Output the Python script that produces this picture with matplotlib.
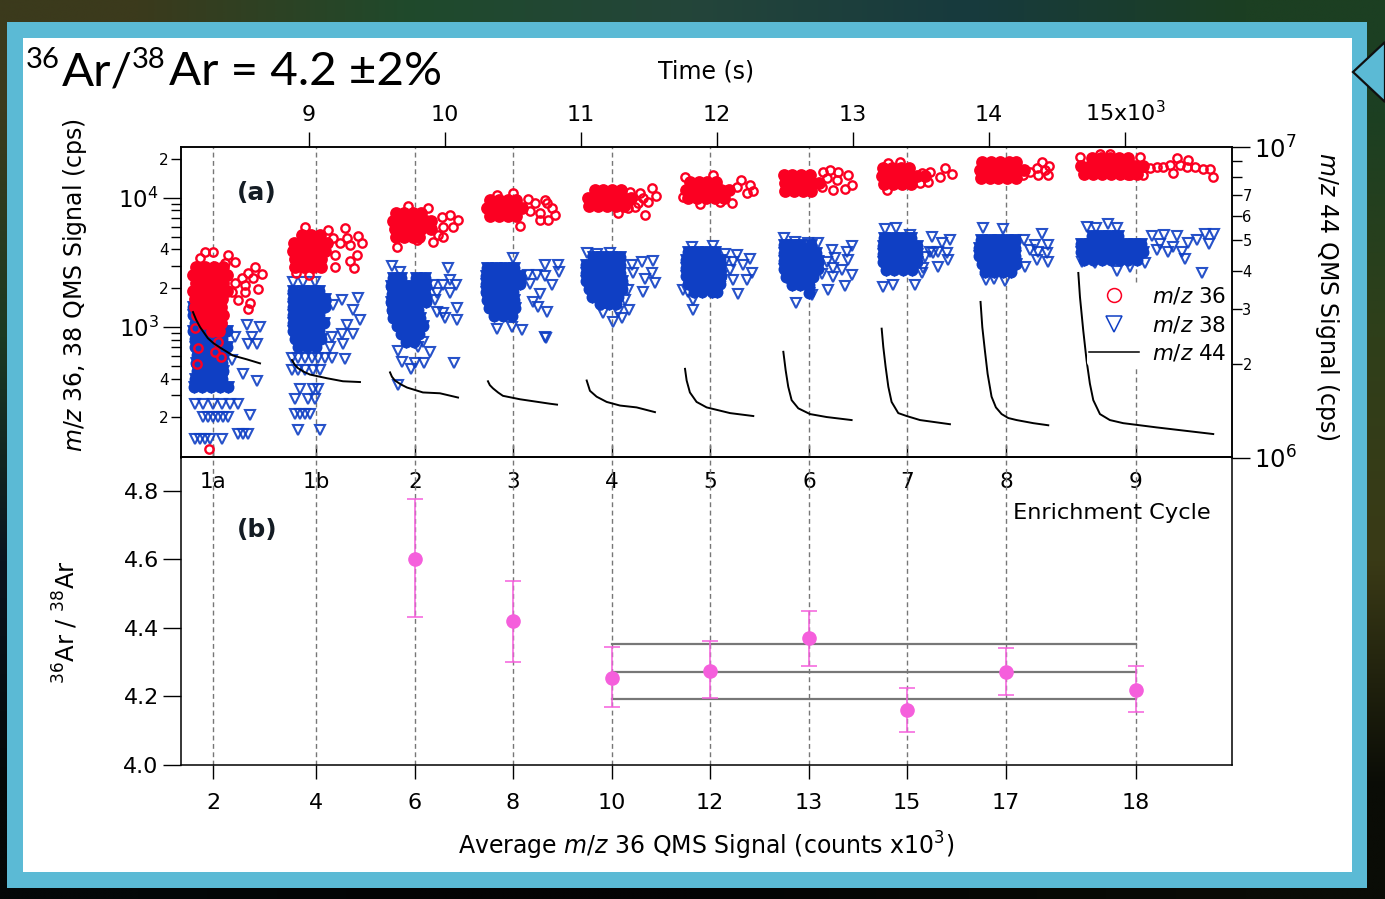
import numpy
import matplotlib
matplotlib.use('Agg')
import matplotlib.pyplot as plt
from matplotlib.lines import Line2D
from matplotlib.patches import Rectangle, Polygon

plt.rcParams['font.family'] = 'DejaVu Sans'
plt.rcParams['mathtext.fontset'] = 'dejavusans'
plt.rcParams['axes.linewidth'] = 1.1

W, H = 1385, 899

#Time axis and cycle positions
time_ticks = [9000, 10000, 11000, 12000, 13000, 14000, 15000]
time_labels = ['9', '10', '11', '12', '13', '14', '15x10$^{3}$']
cycle_times = [8294, 9051, 9779, 10500, 11228, 11949, 12676, 13397, 14125, 15081]
cycle_names = ['1a', '1b', '2', '3', '4', '5', '6', '7', '8', '9']
avg_signal = ['2', '4', '6', '8', '10', '12', '13', '15', '17', '18']

#Panel (b)
ratio_t = [9779, 10500, 11228, 11949, 12676, 13397, 14125, 15081]
ratio = [4.60, 4.42, 4.255, 4.275, 4.37, 4.16, 4.27, 4.22]
ratio_lo = [4.43, 4.30, 4.17, 4.195, 4.29, 4.095, 4.205, 4.155]
ratio_hi = [4.775, 4.535, 4.345, 4.36, 4.45, 4.225, 4.34, 4.29]
band_t = [11228, 15081]
band = [4.353, 4.272, 4.193]

#m/z 44 decay curves (cps)
t44 = [
    [8147, 8170, 8199, 8257, 8300, 8346, 8441, 8544, 8640],
    [8875, 8895, 8919, 8960, 9007, 9132, 9250, 9375],
    [9596, 9610, 9632, 9675, 9721, 9838, 9963, 10096],
    [10316, 10330, 10353, 10390, 10426, 10552, 10772, 10824],
    [11042, 11066, 11115, 11189, 11287, 11409, 11544],
    [11765, 11777, 11801, 11850, 11924, 12096, 12267],
    [12488, 12505, 12524, 12549, 12598, 12684, 12806, 12990],
    [13211, 13223, 13240, 13260, 13284, 13333, 13395, 13493, 13713],
    [13938, 13951, 13970, 13990, 14019, 14051, 14093, 14142, 14203, 14326, 14436],
    [14657, 14669, 14693, 14718, 14742, 14767, 14816, 14889, 14987, 15233, 15649],
]
s44 = [
    [2.94, 2.78, 2.63, 2.42, 2.33, 2.26, 2.13, 2.07, 2.01],
    [2.06, 1.99, 1.94, 1.89, 1.85, 1.80, 1.76, 1.75],
    [1.88, 1.82, 1.77, 1.72, 1.68, 1.62, 1.61, 1.56],
    [1.76, 1.71, 1.67, 1.62, 1.58, 1.54, 1.49, 1.48],
    [1.77, 1.64, 1.57, 1.51, 1.47, 1.45, 1.40],
    [1.93, 1.77, 1.62, 1.51, 1.45, 1.39, 1.36],
    [2.19, 1.91, 1.69, 1.53, 1.44, 1.38, 1.35, 1.32],
    [2.60, 2.27, 1.96, 1.69, 1.51, 1.39, 1.36, 1.32, 1.28],
    [3.17, 2.63, 2.21, 1.86, 1.57, 1.45, 1.38, 1.34, 1.32, 1.29, 1.27],
    [3.93, 3.29, 2.57, 2.05, 1.73, 1.53, 1.38, 1.32, 1.29, 1.25, 1.19],
]

#m/z 36, dense part of each cycle: (cps, [times])
core36 = [
    (2920, [8170, 8235, 8300, 8365]), (2530, [8150, 8215, 8280, 8345, 8400]),
    (2190, [8170, 8235, 8300, 8365]), (1900, [8150, 8215, 8280, 8345, 8400]),
    (1650, [8165, 8230, 8295, 8360]), (1430, [8160, 8225, 8290, 8355]),
    (1240, [8180, 8245, 8310, 8370]), (1075, [8230, 8295, 8355]), (930, [8290, 8340]),
    (5160, [8949, 9015, 9081]), (4470, [8890, 8955, 9020, 9085, 9130]),
    (3880, [8880, 8945, 9010, 9075, 9120]), (3370, [8895, 8960, 9025, 9090]),
    (2920, [8900, 8965, 9030, 9085]),
    (7660, [9640, 9700, 9765, 9825]), (6640, [9620, 9680, 9745, 9810, 9860, 9900]),
    (5750, [9630, 9695, 9760, 9825, 9900]), (4990, [9640, 9700, 9765, 9810]),
    (9640, [10330, 10395, 10460, 10525]), (8350, [10310, 10375, 10440, 10505, 10570]),
    (7240, [10330, 10395, 10460, 10525]),
    (11540, [11100, 11165, 11230, 11295]), (10000, [11050, 11115, 11180, 11245, 11310, 11370]),
    (8670, [11060, 11125, 11190, 11255, 11320]),
    (13300, [11800, 11865, 11930, 11990]), (11540, [11770, 11835, 11900, 11965, 12030, 12090]),
    (10000, [11790, 11855, 11920, 11985, 12050]),
    (15060, [12490, 12555, 12620, 12685]), (13060, [12500, 12565, 12630, 12695, 12750]),
    (11320, [12500, 12565, 12630, 12695]),
    (17100, [13220, 13285, 13350, 13410]), (14830, [13215, 13280, 13345, 13410, 13470, 13530]),
    (12850, [13230, 13295, 13360, 13425]),
    (19000, [13950, 14015, 14080, 14145, 14200]), (16480, [13935, 14000, 14065, 14130, 14195, 14260]),
    (14290, [13940, 14005, 14070, 14135, 14200]),
    (20400, [14760, 14825, 14890, 14955, 15020]),
    (17700, [14680, 14745, 14810, 14875, 14940, 15005, 15070, 15130]),
    (15350, [14700, 14765, 14830, 14895, 14960, 15025, 15090]),
]

#m/z 36, scattered points
t36 = [8199, 8297, 8235, 8407, 8456, 8382, 8603, 8652, 8554, 8505, 8591, 8456, 8530, 8628, 8431, 8530,
       8480, 8566, 8554, 8162, 8333, 8181, 8309, 8351, 8179, 8267,
       8971, 9142, 9265, 9363, 9387, 9179, 9228, 9302, 9191, 9351, 9302, 9191, 9331, 8905, 9003, 9032, 9277,
       9878, 9976, 10037, 10098, 10061, 9988, 9951, 9909, 9988, 9865, 9792, 9645, 9731,
       10613, 10699, 10552, 10503, 10380, 10748, 10662, 10735, 10787, 10809, 10757, 10699, 10625,
       11360, 11434, 11520, 11551, 11495, 11397, 11348, 11274, 11470, 11421, 11458,
       12174, 12243, 12267, 12218, 12108, 12022, 11875, 12144, 12071, 11973, 11765, 11752,
       12782, 12831, 12892, 12966, 12990, 12941, 12855, 12770, 12880, 12806,
       13677, 13726, 13640, 13566, 13505, 13554, 13493, 13345, 13260, 13248,
       14387, 14441, 14436, 14363, 14301, 14252, 14350, 14412,
       14669, 14816, 14889, 15110, 15331, 15380, 15465, 15355, 15233, 15282, 15404, 15453, 15514, 15576,
       15625, 15649, 15135, 15037, 15184]
s36 = [3404, 3837, 3837, 3614, 3208, 3112, 2938, 2578, 2606, 2382, 2382, 2178, 2115, 1958, 1879, 1879,
       1618, 1544, 1377, 993, 770, 695, 644, 589, 523, 115,
       6000, 5650, 5890, 5070, 4500, 4860, 4450, 4315, 3610, 3610, 3265, 2900, 2850, 2640, 2530, 2940, 4860,
       8310, 7080, 7380, 6745, 6000, 6000, 5165, 4580, 4950, 6550, 4720, 4140, 8670,
       9770, 6745, 6070, 10860, 10540, 9100, 9100, 9640, 8350, 7430, 6800, 7660, 7900,
       11190, 10860, 11880, 10350, 9350, 8570, 8310, 7600, 7380, 9100, 9930,
       13770, 12620, 11400, 10860, 9100, 9350, 8970, 12250, 11540, 15070, 14620, 10230,
       16000, 16480, 16000, 15060, 12620, 11660, 11540, 12250, 13770, 14190,
       17000, 15350, 14620, 16000, 15500, 13370, 13000, 19100, 18580, 11540,
       19130, 17700, 15100, 15100, 16000, 15100, 17000, 16480,
       20700, 21950, 21950, 20700, 18030, 20320, 19720, 15740, 17300, 17300, 18030, 17300, 17300, 16670,
       16670, 14460, 15100, 15100, 17000]

#m/z 38, dense part of each cycle
core38 = [
    (1430, [8150]), (1240, [8150]), (1075, [8160, 8225, 8290, 8355]),
    (930, [8150, 8210, 8275, 8335, 8400]), (807, [8165, 8230, 8295, 8360]),
    (700, [8165, 8220, 8285, 8350, 8400]), (607, [8175, 8240, 8305, 8365]),
    (526, [8170, 8235, 8300, 8360]), (456, [8180, 8245, 8310, 8370]),
    (395, [8165, 8230, 8295, 8360]), (343, [8155, 8215, 8280, 8345, 8405]),
    (1900, [8885, 8955, 9020, 9075]), (1650, [8880, 8945, 9010, 9075, 9120]),
    (1430, [8885, 8950, 9015, 9080, 9120]), (1240, [8880, 8945, 9010, 9075]),
    (1075, [8885, 8950, 9015, 9080, 9110]), (930, [8880, 8945, 9010, 9075]),
    (807, [8900, 8965, 9030, 9085]), (700, [8920, 8985, 9050]),
    (2400, [9620, 9680, 9790, 9850]), (2080, [9600, 9665, 9730, 9795, 9860]),
    (1800, [9610, 9675, 9740, 9805, 9850]), (1560, [9600, 9665, 9730, 9795, 9860]),
    (1355, [9610, 9675, 9740, 9805]), (1175, [9620, 9685, 9750, 9815]),
    (1018, [9650, 9715, 9780, 9840]), (883, [9680, 9745, 9810]), (766, [9710, 9770]),
    (2860, [10310, 10375, 10440, 10505]), (2480, [10300, 10365, 10430, 10495, 10555]),
    (2150, [10300, 10365, 10430, 10495, 10550]), (1870, [10305, 10370, 10435, 10500]),
    (1620, [10310, 10375, 10440, 10505]), (1400, [10325, 10390, 10455, 10515]),
    (1220, [10360, 10425, 10490]),
    (3490, [11090, 11155, 11220, 11285]), (3030, [11040, 11105, 11170, 11235, 11290]),
    (2630, [11040, 11105, 11170, 11235, 11290]), (2280, [11040, 11105, 11170, 11235, 11300]),
    (1970, [11060, 11125, 11190, 11255, 11300]), (1710, [11080, 11145, 11210, 11270]),
    (1510, [11140, 11205, 11260]),
    (3810, [11790, 11855, 11920, 11985]), (3300, [11770, 11835, 11900, 11965, 12020]),
    (2860, [11770, 11835, 11900, 11965, 12020]), (2480, [11770, 11835, 11900, 11965, 12030]),
    (2150, [11790, 11855, 11920, 11985, 12020]), (1870, [11830, 11890, 11960, 12000]),
    (4325, [12490, 12550, 12610, 12690]), (3750, [12490, 12555, 12620, 12685, 12730]),
    (3250, [12490, 12555, 12620, 12685, 12745]), (2820, [12490, 12555, 12620, 12685, 12745]),
    (2445, [12510, 12575, 12640, 12705]), (2120, [12550, 12610, 12675]), (1840, [12680]),
    (4900, [13230, 13295, 13360, 13425]), (4250, [13220, 13285, 13350, 13415, 13470]),
    (3680, [13220, 13285, 13350, 13415, 13470]), (3190, [13220, 13285, 13350, 13415, 13470]),
    (2770, [13240, 13305, 13370, 13435]),
    (4720, [13940, 14005, 14070, 14135, 14190]), (4090, [13930, 13995, 14060, 14125, 14190]),
    (3550, [13930, 13995, 14060, 14125, 14190]), (3080, [13950, 14015, 14080, 14145, 14200]),
    (2670, [13970, 14035, 14100, 14165]),
    (5070, [14760, 14825, 14885, 14950]),
    (4400, [14680, 14745, 14810, 14875, 14940, 15005, 15070, 15120]),
    (3810, [14680, 14745, 14810, 14875, 14940, 15005, 15070, 15130]),
    (3300, [14700, 14765, 14830, 14895, 14960, 15025, 15090]),
]

#m/z 38, scattered points
t38 = [8162, 8223, 8297, 8358, 8419, 8480, 8223, 8260, 8297, 8333, 8370, 8407, 8162, 8199, 8235, 8272, 8358,
       8566, 8480, 8517, 8554, 8456, 8542, 8640, 8554, 8615, 8512, 8615, 8579, 8431,
       8885, 8958, 9044, 8873, 8922, 8971, 9020, 9069, 9118, 9167, 8873, 8922, 8971, 9032, 9081, 8934, 9032, 9069,
       8897, 8995, 9044, 8897, 8934, 8971, 9007, 8917, 9081, 9363, 9240, 9326, 9375, 9277, 9167, 9240, 9326, 9253,
       9265, 9155, 9179,
       9608, 9669, 10025, 10037, 9914, 9988, 10081, 9939, 10037, 9927, 9841, 9890, 9657, 9804, 9681, 9779, 9846,
       10066, 9748, 9657, 9988, 10086, 10086, 9939, 10000,
       10503, 10380, 10490, 10564, 10613, 10674, 10735, 10650, 10687, 10748, 10735, 10743, 10735, 10787, 10699,
       10831, 10625, 10840,
       11042, 11115, 11213, 11372, 11446, 11532, 11385, 11470, 11520, 11544, 11458, 11348, 11323, 11355, 11274,
       11152, 11164, 11238, 11299,
       11973, 11814, 12059, 12147, 12243, 12120, 12059, 12193, 12255, 12096, 12218, 12120, 12157, 11789, 11826,
       11826, 11752, 12022,
       12495, 12573, 12672, 12745, 12990, 12843, 12953, 12868, 12966, 12806, 12917, 12855, 12990, 12855, 12770,
       12941, 12819, 12581, 12696,
       13566, 13627, 13689, 13529, 13701, 13627, 13517, 13578, 13652, 13713, 13456, 13223, 13297, 13235, 13320,
       13419, 13505, 13590,
       13958, 14105, 14387, 14257, 14436, 14338, 14301, 14424, 14363, 14264, 14350, 14436, 13978, 14037, 14117, 14179,
       14718, 14787, 14877, 14939, 15196, 15287, 15380, 15257, 15355, 15318, 15233, 15416, 15441, 15465, 15527,
       15588, 15654, 15620, 15563, 14939, 15037, 14779, 14939, 15147, 14681]
s38 = [256, 256, 256, 256, 256, 256, 200, 200, 200, 200, 200, 200, 137, 137, 137, 137, 137,
       208, 148, 148, 148, 841, 1035, 1005, 746, 746, 437, 384, 841, 555,
       2218, 2218, 2218, 578, 578, 578, 578, 578, 578, 578, 464, 464, 464, 464, 464, 334, 334, 334,
       280, 280, 280, 214, 214, 214, 214, 159, 159, 1687, 1618, 1355, 1132, 1035, 841, 881, 881, 746,
       572, 703, 1479,
       2970, 2685, 2850, 2312, 2115, 2115, 2115, 1824, 1824, 1618, 770, 644, 655, 703, 538, 532, 532,
       532, 478, 355, 1276, 1396, 1132, 1315, 1167,
       3400, 960, 1005, 947, 2530, 2530, 3020, 1570, 1435, 1315, 841, 822, 2480, 2120, 1820,
       3050, 2150, 2650,
       3770, 3680, 3770, 3020, 3205, 3265, 2605, 2380, 2605, 2180, 1880, 1935, 1637, 1355, 1315,
       1480, 1277, 1100, 1167,
       4250, 4200, 3680, 3610, 3340, 3205, 3205, 3020, 2605, 2770, 2310, 2310, 1800, 1880, 1620,
       1355, 1935, 2055,
       4860, 4580, 4500, 4450, 4250, 3950, 3840, 3400, 3300, 3210, 2770, 2850, 2530, 2455, 2600,
       2080, 1940, 1552, 1770,
       3840, 3840, 3725, 3510, 3300, 2940, 2850, 5010, 4450, 4720, 2115, 2055, 2115, 5710, 5820,
       5165, 2605, 3725,
       5820, 5710, 5230, 4730, 4320, 4320, 3950, 3725, 3835, 2940, 3310, 3215, 2315, 2355, 2275, 2685,
       6000, 5820, 6250, 5820, 5080, 5180, 5080, 4405, 4200, 3840, 3950, 3840, 3350, 4460, 4730,
       5260, 5260, 4405, 2635, 2735, 2900, 3120, 3310, 3120, 3215]

#frame colours, top to bottom of the slide background
bg_colors = [['#3b3a1c', '#1f4a2c', '#24453a', '#173a3e', '#1c3f22'],
             ['#1b3a22', '#1a3325', '#1a3325', '#2a3d22', '#2f3f1a'],
             ['#0a1420', '#0a1014', '#0a1014', '#141a10', '#3a3a16'],
             ['#040808', '#030404', '#030404', '#060804', '#0a0c06']]

teal = '#5bbad5'
red = '#fb0022'
blue = '#0f3fc4'
pink = '#f55fdc'


def unroll(rows):
    '''Flatten (cps, [times]) rows into two lists.'''
    tt, ss = [], []
    for s, ts in rows:
        tt += ts
        ss += [s]*len(ts)
    return tt, ss


def px(x_px, y_px):
    return x_px/W, 1.-y_px/H


fig = plt.figure(figsize=(W/100., H/100.), dpi=100)

#Slide background and frame, in pixel units
bg = fig.add_axes([0, 0, 1, 1], zorder=-1)
bg.set_xlim(0, W)
bg.set_ylim(H, 0)
bg.axis('off')
rgb = numpy.array([[matplotlib.colors.to_rgb(c) for c in row] for row in bg_colors])
bg.imshow(rgb, extent=(0, W, H, 0), aspect='auto', interpolation='bilinear')
bg.set_xlim(0, W)
bg.set_ylim(H, 0)
bg.add_patch(Rectangle((7, 22), 1360, 866, fc=teal, ec='none'))
bg.add_patch(Rectangle((23, 38), 1329, 834, fc='white', ec='none'))
bg.add_patch(Polygon([(1385, 42), (1353, 72), (1385, 102)], closed=True, fc=teal, ec='#101010', lw=1.6))

#Title pieces
bg.text(26, 68, '36', fontsize=21, family='Lato', va='baseline')
bg.text(62, 85, 'Ar/', fontsize=34.2, family='Lato', va='baseline')
bg.text(132, 68, '38', fontsize=21, family='Lato', va='baseline')
bg.text(169, 85, 'Ar = 4.2 \u00b12%', fontsize=34.2, family='Lato', va='baseline')

#Axis titles
bg.text(706, 71, 'Time (s)', fontsize=17, ha='center', va='center')
bg.text(75, 285, r'$\mathit{m/z}$ 36, 38 QMS Signal (cps)', fontsize=17, rotation=90, ha='center', va='center')
bg.text(1327, 296, r'$\mathit{m/z}$ 44 QMS Signal (cps)', fontsize=17, rotation=270, ha='center', va='center')
bg.text(66, 622, r'$^{36}$Ar / $^{38}$Ar', fontsize=17.5, rotation=90, ha='center', va='center')
bg.text(706, 846, r'Average $\mathit{m/z}$ 36 QMS Signal (counts x10$^{3}$)', fontsize=17, ha='center', va='center')

#Panels share the time axis
t_lim = (8059, 15787)
x0, y0 = px(181, 457.5)
ax_a = fig.add_axes([x0, y0, 1051./W, 310.5/H])
x0, y0 = px(181, 765)
ax_b = fig.add_axes([x0, y0, 1051./W, 307.5/H])
ax_b.patch.set_visible(False)

#Panel (a)
for t in cycle_times:
    ax_a.axvline(t, c='#777777', ls=(0, (3.5, 2.5)), lw=1, zorder=1)

tt, ss = unroll(core38)
ax_a.plot(tt, ss, ls='none', marker='o', ms=8.6, mfc=blue, mec=blue, mew=0, zorder=2)
ax_a.plot(tt, ss, ls='none', marker='v', ms=8.8, mfc=blue, mec=blue, mew=0.6, zorder=2)
ax_a.plot(t38, s38, ls='none', marker='v', ms=6.8, mfc='none', mec=blue, mew=1.5, alpha=0.9, zorder=2)
tt, ss = unroll(core36)
ax_a.plot(tt, ss, ls='none', marker='o', ms=9.2, mfc=red, mec=red, mew=0, zorder=3)
ax_a.plot(t36, s36, ls='none', marker='o', ms=6, mfc='none', mec=red, mew=1.7, zorder=3)

ax_a.set_xlim(t_lim)
ax_a.set_yscale('log')
ax_a.set_ylim(98, 24800)
ax_a.set_yticks([1e3, 1e4])
ax_a.set_yticklabels(['10$^{3}$', '10$^{4}$'], fontsize=16.5)
minor_left = [200, 300, 400, 500, 600, 700, 800, 900, 2000, 3000, 4000, 5000, 6000, 7000, 8000, 9000, 20000]
minor_labels = {200: '2', 400: '4', 2000: '2', 4000: '4', 20000: '2'}
ax_a.set_yticks(minor_left, minor=True)
ax_a.set_yticklabels([minor_labels.get(v, '') for v in minor_left], minor=True, fontsize=11)
ax_a.tick_params(axis='y', which='major', length=13, width=1, pad=3)
ax_a.tick_params(axis='y', which='minor', length=7, width=1, pad=2)
ax_a.set_xticks(time_ticks)
ax_a.set_xticklabels(time_labels, fontsize=16)
ax_a.xaxis.tick_top()
ax_a.tick_params(axis='x', length=11, width=1, pad=4.5)
ax_a.text(0.053, 0.83, '(a)', transform=ax_a.transAxes, fontsize=18, fontweight='bold', color='#141c24')

cyc = ax_a.secondary_xaxis('bottom')
cyc.set_xticks(cycle_times)
cyc.set_xticklabels(cycle_names, fontsize=15.5)
cyc.tick_params(direction='in', length=9, width=1, pad=10.5)

ax_r = ax_a.twinx()
ax_r.patch.set_visible(False)
ax_r.set_yscale('log')
ax_r.set_ylim(1e6, 1e7)
ax_r.set_yticks([1e6, 1e7])
ax_r.set_yticklabels(['10$^{6}$', '10$^{7}$'], fontsize=17.5)
minor_right = [2e6, 3e6, 4e6, 5e6, 6e6, 7e6, 8e6, 9e6]
ax_r.set_yticks(minor_right, minor=True)
ax_r.set_yticklabels(['2', '3', '4', '5', '6', '7', '', ''], minor=True, fontsize=10.5)
ax_r.tick_params(axis='y', which='major', length=13, width=1, pad=3)
ax_r.tick_params(axis='y', which='minor', length=7, width=1, pad=0.5)
for tc, sc in zip(t44, s44):
    ax_r.plot(tc, numpy.array(sc)*1e6, c='k', lw=1.4, zorder=4)

handles = [Line2D([], [], ls='none', marker='o', ms=10, mfc='none', mec=red, mew=1.1),
           Line2D([], [], ls='none', marker='v', ms=11, mfc='none', mec=blue, mew=1.1),
           Line2D([], [], c='k', lw=1.1)]
leg = ax_r.legend(handles, [r'$\mathit{m/z}$ 36', r'$\mathit{m/z}$ 38', r'$\mathit{m/z}$ 44'],
                  loc='center right', bbox_to_anchor=(0.9965, 0.428), fontsize=15.5, frameon=True,
                  framealpha=1, facecolor='white', edgecolor='none', handlelength=2.3, handletextpad=0.6,
                  labelspacing=0.36, borderpad=0.1, borderaxespad=0)

#Panel (b)
for t in cycle_times:
    ax_b.axvline(t, c='#777777', ls=(0, (3.5, 2.5)), lw=1, zorder=1)
for v in band:
    ax_b.plot(band_t, [v, v], c='#777777', lw=1.6, zorder=2)
ratio_arr = numpy.array(ratio)
err = [ratio_arr-numpy.array(ratio_lo), numpy.array(ratio_hi)-ratio_arr]
ax_b.errorbar(ratio_t, ratio, yerr=err, ls='none', marker='o', ms=9.5, mfc=pink, mec=pink, ecolor=pink,
              elinewidth=1.1, capsize=6, capthick=1.1, zorder=3)
ax_b.set_xlim(t_lim)
ax_b.set_ylim(4.0, 4.0+(765-458)/342.5)
ax_b.set_yticks([4.0, 4.2, 4.4, 4.6, 4.8])
ax_b.set_yticklabels(['4.0', '4.2', '4.4', '4.6', '4.8'], fontsize=16)
ax_b.tick_params(axis='y', length=13, width=1, pad=3)
ax_b.set_xticks(cycle_times)
ax_b.set_xticklabels(avg_signal, fontsize=16)
ax_b.tick_params(axis='x', length=10, width=1, pad=10)
ax_b.text(0.053, 0.74, '(b)', transform=ax_b.transAxes, fontsize=18, fontweight='bold', color='#141c24')
ax_b.text(0.98, 0.82, 'Enrichment Cycle', transform=ax_b.transAxes, fontsize=16.2, ha='right', va='center')
ax_b.spines['top'].set_visible(False)

plt.savefig('out.png', dpi=100, facecolor='black')
